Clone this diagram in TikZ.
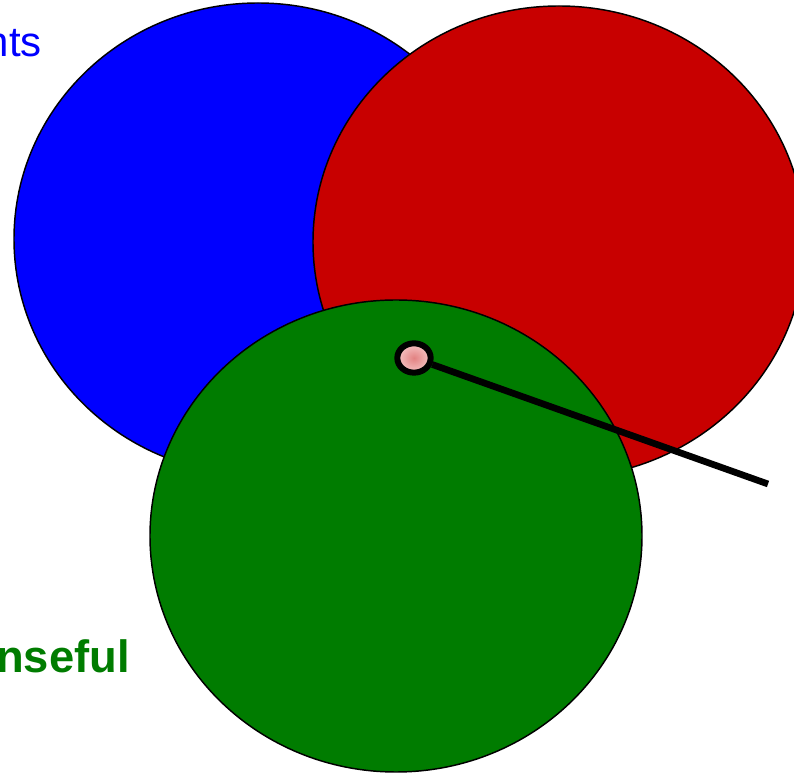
\documentclass[tikz,border=0pt]{standalone}
\usepackage{fontspec}
\setmainfont{Liberation Sans}
\usepackage{xcolor}
\usepackage{tikz}
\usetikzlibrary{shapes.geometric}
\definecolor{setblue}{RGB}{0,0,255}
\definecolor{setred}{RGB}{200,0,0}
\definecolor{setgreen}{RGB}{0,124,0}
\definecolor{dotpink}{RGB}{246,196,196}
\definecolor{dotcore}{RGB}{226,130,130}

\begin{document}
\begin{tikzpicture}[x=0.75pt, y=-0.75pt,
        setshape/.style={ellipse, draw=black, line width=1.1pt, inner sep=0pt,
            minimum width=369pt, minimum height=354pt}]
            \useasboundingbox (0,0) rectangle (794,773);
            \clip (0,0) rectangle (794,773);
            \node[setshape, fill=setblue, minimum width=366pt] (blueset) at (258,239) {};
            \node[setshape, fill=setred] (redset) at (559,242) {};
            \node[setshape, fill=setgreen] (greenset) at (396,536) {};
            \node[anchor=base east, inner sep=0pt, text=setblue, font=\fontsize{31.5}{36}\selectfont] (bluelabel) at (42,57) {nts};
            \node[anchor=base east, inner sep=0pt, text=setgreen, font=\fontsize{34}{40}\selectfont\bfseries] (greenlabel) at (130,673) {nseful};
            \node[ellipse, draw=black, line width=4.5pt, inner sep=0pt, minimum width=25pt, minimum height=22pt,
                inner color=dotcore, outer color=dotpink] (dot) at (414,358) {};
            \coordinate (tip) at (768,484);
            \draw[line width=5pt] (dot) -- (tip);
        \end{tikzpicture}
\end{document}
